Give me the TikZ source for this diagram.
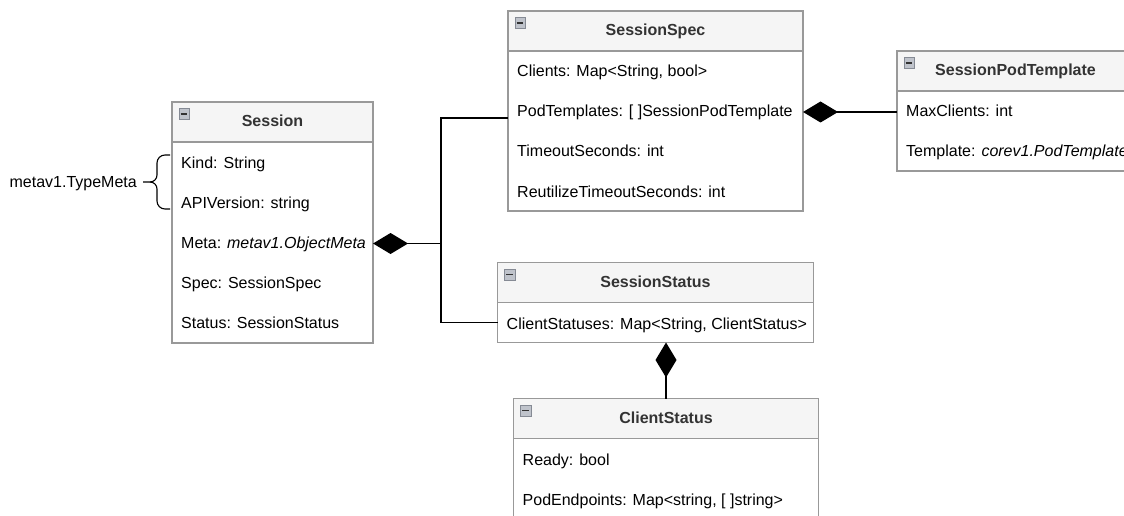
\documentclass[tikz,border=0pt]{standalone}
\usepackage{fontspec}
\setmainfont{Liberation Sans}
\usetikzlibrary{arrows.meta, positioning}
\definecolor{boxgray}{HTML}{999999}
\definecolor{headfill}{HTML}{F5F5F5}
\definecolor{headtext}{HTML}{333333}
\definecolor{iconfill}{HTML}{BFC3CB}
\definecolor{icondraw}{HTML}{858A94}
\newcommand{\umlfont}{\fontsize{16}{19}\selectfont}

\tikzset{
  classhead/.style={draw=boxgray, fill=headfill, line width=1.2pt, outer sep=0pt, inner sep=0pt,
    minimum height=40pt, anchor=north west, font=\umlfont\bfseries, text=headtext,
    text height=13pt, text depth=3pt},
  classbody/.style={draw=boxgray, fill=white, line width=1.2pt, outer sep=0pt, inner sep=0pt},
  field/.style={inner sep=0pt, anchor=base west, text height=13pt, text depth=3pt},
  foldicon/.style={draw=icondraw, fill=iconfill, minimum size=10.5pt, inner sep=0pt, anchor=north west,
    path picture={\draw[line width=1.7pt, headtext] ([xshift=2pt]path picture bounding box.west) -- ([xshift=-2pt]path picture bounding box.east);}},
  conn/.style={line width=1.3pt, black},
  comp/.style={conn, {Diamond[length=35pt, width=21pt]}-},
}

\begin{document}
\begin{tikzpicture}[x=1pt, y=-1pt, font=\umlfont]
  \useasboundingbox (0,0) rectangle (1124,516);
  \fill[white] (0,0) rectangle (1124,516);
  \clip (0,0) rectangle (1124,516);

  % Session
  \node[classhead, minimum width=201pt] (sHead) at (172,102) {Session};
  \node[classbody, minimum width=201pt, minimum height=201pt, below=0pt of sHead] (sBody) {};
  \node[foldicon] (sIcon) at ([shift={(6.5,6.5)}]sHead.north west) {};
  \node[field] (sKind) at ([shift={(9,26.5)}]sHead.south west) {Kind: String};
  \node[field] (sApi) at ([shift={(0,40)}]sKind.base west) {APIVersion: string};
  \node[field] (sMeta) at ([shift={(0,40)}]sApi.base west) {Meta: \textit{metav1.ObjectMeta}};
  \node[field] (sSpec) at ([shift={(0,40)}]sMeta.base west) {Spec: SessionSpec};
  \node[field] (sStatus) at ([shift={(0,40)}]sSpec.base west) {Status: SessionStatus};

  % brace for the embedded TypeMeta
  \draw[conn, line width=1.1pt] (170,155) -- (165,155) to[out=180, in=90] (157,163) -- (157,175)
    to[out=-90, in=0] (150,182) -- (143,182) coordinate (brTip);
  \draw[conn, line width=1.1pt] (150,182) to[out=0, in=90] (157,189) -- (157,201)
    to[out=-90, in=180] (165,209) -- (170,209);
  \node[field, left=6pt of brTip] (typeMeta) {metav1.TypeMeta};

  % SessionSpec
  \node[classhead, minimum width=295pt] (specHead) at (508,11) {SessionSpec};
  \node[classbody, minimum width=295pt, minimum height=160pt, below=0pt of specHead] (specBody) {};
  \node[foldicon] (specIcon) at ([shift={(6.5,6.5)}]specHead.north west) {};
  \node[field] (specClients) at ([shift={(9,26)}]specHead.south west) {Clients: Map<String, bool>};
  \node[field] (specPod) at ([shift={(0,40)}]specClients.base west) {PodTemplates: [ ]SessionPodTemplate};
  \node[field] (specTimeout) at ([shift={(0,40)}]specPod.base west) {TimeoutSeconds: int};
  \node[field] (specReuse) at ([shift={(0,40)}]specTimeout.base west) {ReutilizeTimeoutSeconds: int};

  % SessionPodTemplate
  \node[classhead, minimum width=237pt] (sptHead) at (897,51) {SessionPodTemplate};
  \node[classbody, minimum width=237pt, minimum height=80pt, below=0pt of sptHead] (sptBody) {};
  \node[foldicon] (sptIcon) at ([shift={(6.5,6.5)}]sptHead.north west) {};
  \node[field] (sptMax) at ([shift={(9,26)}]sptHead.south west) {MaxClients: int};
  \node[field] (sptTpl) at ([shift={(0,40)}]sptMax.base west) {Template: \textit{corev1.PodTemplate}};

  % SessionStatus
  \node[classhead, minimum width=316pt] (ssHead) at (497.5,262.5) {SessionStatus};
  \node[classbody, minimum width=316pt, minimum height=40pt, below=0pt of ssHead] (ssBody) {};
  \node[foldicon] (ssIcon) at ([shift={(6.5,6.5)}]ssHead.north west) {};
  \node[field] (ssClients) at ([shift={(9,26.5)}]ssHead.south west) {ClientStatuses: Map<String, ClientStatus>};

  % ClientStatus
  \node[classhead, minimum width=305pt] (csHead) at (513.5,398.5) {ClientStatus};
  \node[classbody, minimum width=305pt, minimum height=140pt, below=0pt of csHead] (csBody) {};
  \node[foldicon] (csIcon) at ([shift={(6.5,6.5)}]csHead.north west) {};
  \node[field] (csReady) at ([shift={(9,26.5)}]csHead.south west) {Ready: bool};
  \node[field] (csPod) at ([shift={(0,40)}]csReady.base west) {PodEndpoints: Map<string, [ ]string>};

  % compositions
  \draw[comp] (sBody.east |- sMeta) -- ++(68,0) coordinate (jn);
  \draw[conn] (jn) |- ([yshift=13pt]specBody.west);
  \draw[conn] (jn) |- (ssBody.west);
  \draw[comp] (specBody.east |- specPod) -- (sptBody.west |- specPod);
  \draw[comp] (ssBody.south -| csHead.north) -- (csHead.north);
\end{tikzpicture}
\end{document}
